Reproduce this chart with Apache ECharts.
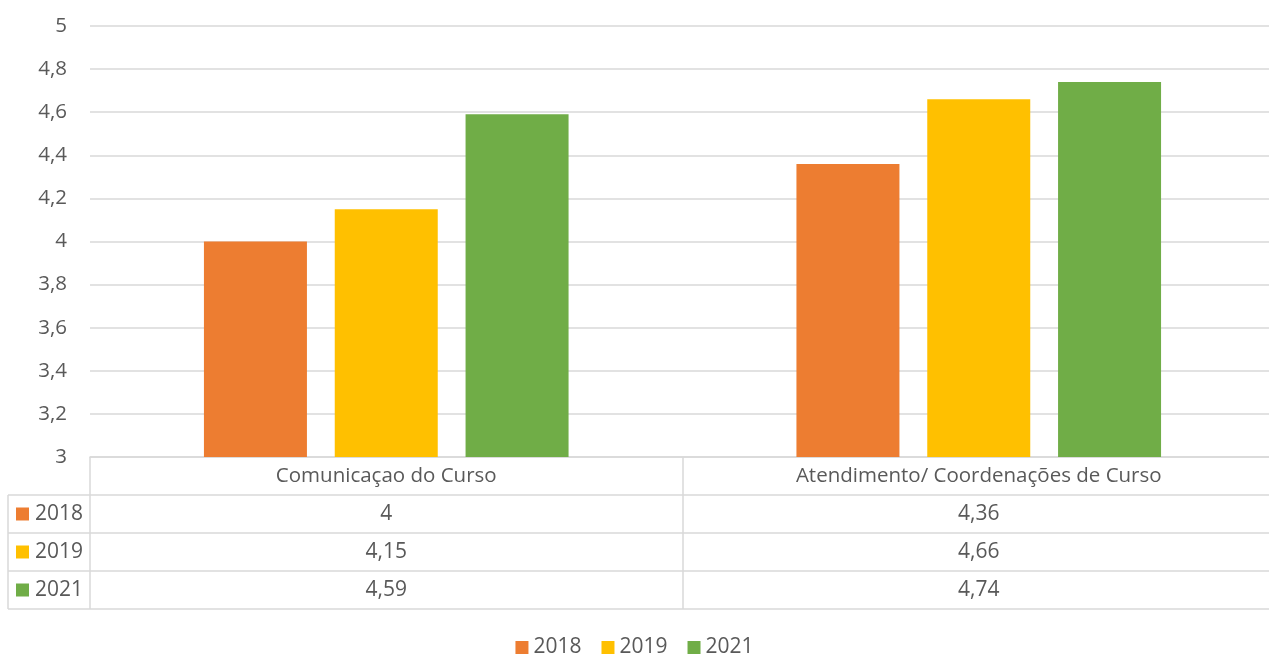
<!DOCTYPE html>
<html>
<head>
<meta charset="utf-8">
<script src="https://cdn.jsdelivr.net/npm/echarts@6/dist/echarts.min.js"></script>
<style>
  html, body { margin: 0; padding: 0; background: #fff; }
  #main { width: 1269px; height: 655px; }
</style>
</head>
<body>
<div id="main"></div>
<script>
var categories = ['Comunicaçao do Curso', 'Atendimento/ Coordenações de Curso'];
var years = ['2018', '2019', '2021'];
var values2018 = [4, 4.36];
var values2019 = [4.15, 4.66];
var values2021 = [4.59, 4.74];
var colors = ['#ED7D31', '#FFC000', '#70AD47'];

var FONT = 'Open Sans';
var FS = 20.5;
var FS_BIG = 21;
var TXT = '#595959';
var LINE = '#d9d9d9';

var gLeft = 90, gTop = 26, gWidth = 1185, gHeight = 431;
var rowH = 38, tableLeft = 8;

function fmt(v) { return String(v).replace('.', ','); }

var chartDom = document.getElementById('main');
var myChart = echarts.init(chartDom);
var seriesData = [values2018, values2019, values2021];

var option = {
    animation: false,
    textStyle: { fontFamily: FONT },
    grid: { left: gLeft, top: gTop, width: gWidth, height: gHeight, containLabel: false, outerBoundsMode: 'none' },
    legend: {
        top: 632,
        left: 'center',
        itemWidth: 13,
        itemHeight: 13,
        itemGap: 20,
        icon: 'rect',
        textStyle: { fontFamily: FONT, fontSize: FS_BIG, color: TXT },
        data: years
    },
    xAxis: {
        type: 'category',
        data: categories,
        axisLine: { lineStyle: { color: LINE, width: 1.5 } },
        axisTick: { show: true, length: rowH * 4, lineStyle: { color: LINE, width: 1.5 } },
        axisLabel: { margin: 9, fontFamily: FONT, fontSize: FS, color: TXT }
    },
    yAxis: {
        type: 'value',
        min: 3,
        max: 5,
        interval: 0.2,
        axisLine: { show: false },
        axisTick: { show: false },
        splitLine: { lineStyle: { color: LINE, width: 1.5 } },
        axisLabel: {
            margin: 23,
            fontFamily: FONT,
            fontSize: FS,
            color: TXT,
            formatter: function (v) { return fmt(Math.round(v * 10) / 10); }
        }
    },
    series: years.map(function (y, i) {
        return {
            name: y,
            type: 'bar',
            barWidth: 103,
            barGap: '27%',
            itemStyle: { color: colors[i] },
            data: seriesData[i]
        };
    })
};
myChart.setOption(option);

// data table under the axis
var graphics = [];
var yBase = gTop + gHeight;
var right = gLeft + gWidth;
for (var r = 1; r <= 4; r++) {
    graphics.push({
        type: 'line',
        shape: { x1: tableLeft, y1: yBase + r * rowH, x2: right, y2: yBase + r * rowH },
        style: { stroke: LINE, lineWidth: 1.5 }
    });
}
graphics.push({
    type: 'line',
    shape: { x1: tableLeft, y1: yBase + rowH, x2: tableLeft, y2: yBase + 4 * rowH },
    style: { stroke: LINE, lineWidth: 1.5 }
});
years.forEach(function (y, i) {
    var cy = yBase + rowH * (i + 1.5);
    graphics.push({
        type: 'rect',
        shape: { x: tableLeft + 8, y: cy - 6.5, width: 13, height: 13 },
        style: { fill: colors[i] }
    });
    graphics.push({
        type: 'text',
        x: tableLeft + 27, y: cy,
        style: { text: y, fontFamily: FONT, fontSize: FS_BIG, fill: TXT, textVerticalAlign: 'middle', textAlign: 'left' }
    });
    categories.forEach(function (c, j) {
        var cx = myChart.convertToPixel({ xAxisIndex: 0 }, c);
        graphics.push({
            type: 'text',
            x: cx, y: cy,
            style: { text: fmt(seriesData[i][j]), fontFamily: FONT, fontSize: FS_BIG, fill: TXT, textAlign: 'center', textVerticalAlign: 'middle' }
        });
    });
});
myChart.setOption({ graphic: graphics });
</script>
</body>
</html>
